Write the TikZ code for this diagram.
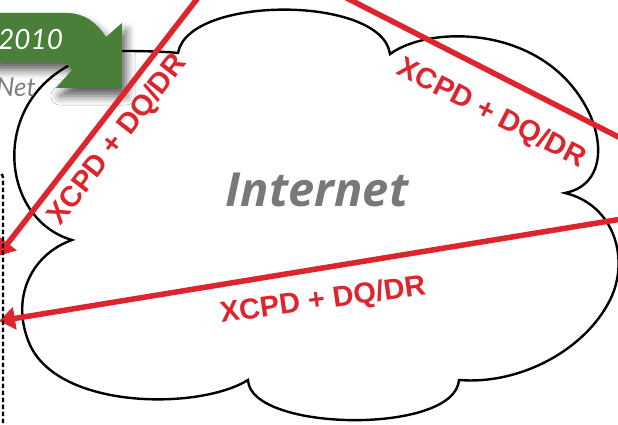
\documentclass[tikz,border=0pt]{standalone}
\usepackage{fontspec}
\setmainfont{Liberation Sans}
\newfontfamily\internetfont{Open Sans}
\newfontfamily\bannerfont{Lato}
\usetikzlibrary{arrows.meta,shadows.blur}
\definecolor{xred}{RGB}{222,36,45}
\definecolor{bannergreen}{RGB}{74,127,58}
\definecolor{inetgray}{RGB}{119,120,123}
\definecolor{netgray}{RGB}{128,128,128}
\begin{document}
\begin{tikzpicture}[x=1pt,y=-1pt,
  cloudline/.style={draw=black,line width=2.4pt,fill=white},
  redline/.style={draw=xred,line width=5.5pt},
  redarrow/.style={redline,-{Triangle[length=16pt,width=22pt]}},
  lbl/.style={text=xred,font=\fontsize{29}{31}\selectfont\bfseries,inner sep=0pt},
  dashedbox/.style={draw=black,line width=2.4pt,dash pattern=on 4.5pt off 2.5pt,rounded corners=6pt},
]
\useasboundingbox (0,0) rectangle (618,425);
% cloud
\path[cloudline] (178,53) .. controls (188,-5) and (382,-5) .. (390,54)
 .. controls (430,25) and (540,25) .. (585,105)
 .. controls (605,140) and (605,185) .. (565,193)
 .. controls (615,205) and (630,260) .. (610,300)
 .. controls (585,350) and (520,385) .. (459,380)
 .. controls (455,435) and (250,432) .. (248,380)
 .. controls (200,410) and (60,410) .. (30,345)
 .. controls (10,300) and (30,255) .. (72,240)
 .. controls (20,225) and (0,160) .. (25,110)
 .. controls (45,70) and (90,50) .. (125,51)
 .. controls (150,51) and (170,52) .. (178,53) -- cycle;
% banner
\fill[bannergreen,blur shadow={shadow xshift=4pt,shadow yshift=-8pt,shadow blur radius=9pt,shadow opacity=65}]
 (-10,13) -- (67,13) .. controls (85,13) and (98,24) .. (106,37) -- (122,23) -- (122,88) -- (56,88) -- (72,70)
 .. controls (68,65) and (65,62) .. (60,62) -- (-10,62) -- cycle;
\node[text=white,font=\bannerfont\itshape\fontsize{28}{30}\selectfont,anchor=base west,inner sep=0pt] (year) at (-2,50) {2010};
\node[text=netgray,font=\bannerfont\itshape\fontsize{26}{28}\selectfont,anchor=base east,inner sep=0pt] (net) at (36,97) {Net};
% internet label
\node[text=inetgray,font=\internetfont\bfseries\itshape\fontsize{47}{52}\selectfont,anchor=base,inner sep=0pt] (internet) at (317,206) {Internet};
% connectors
\coordinate (a1s) at (204,-10);
\coordinate (a1e) at (-2,256);
\coordinate (l2s) at (331,-10);
\coordinate (l2e) at (640,148);
\coordinate (a3s) at (640,216);
\coordinate (a3e) at (-1,321);
\draw[redarrow] (a1s) -- (a1e);
\draw[redline] (l2s) -- (l2e);
\draw[redarrow] (a3s) -- (a3e);
\node[lbl,rotate=52] (t1) at (118,140) {XCPD + DQ/DR};
\node[lbl,rotate=-27] (t2) at (491,114) {XCPD + DQ/DR};
\node[lbl,rotate=8] (t3) at (323,301) {XCPD + DQ/DR};
% dashed box edge
\coordinate (d1) at (-40,172);
\coordinate (d2) at (3,172);
\coordinate (d3) at (3,440);
\draw[dashedbox] (d1) -- (d2) -- (d3);
\end{tikzpicture}
\end{document}
